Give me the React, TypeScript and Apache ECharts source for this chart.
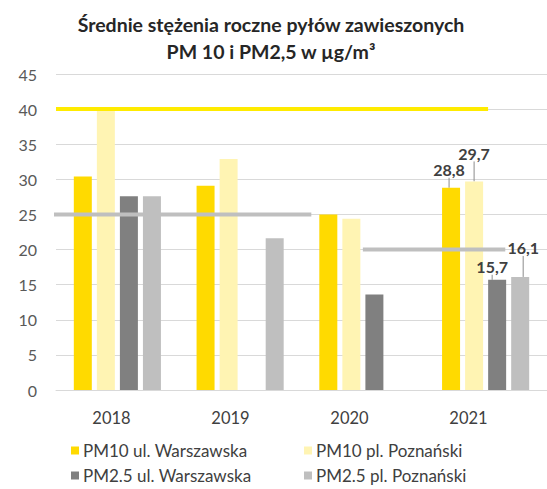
import React, { useEffect, useRef } from "react";
import * as echarts from "echarts";

const years = ["2018", "2019", "2020", "2021"];
const seriesNames = [
  "PM10 ul. Warszawska",
  "PM10 pl. Poznański",
  "PM2.5 ul. Warszawska",
  "PM2.5 pl. Poznański",
];
const pm10Warszawska = [30.4, 29.1, 25.0, 28.8];
const pm10Poznanski = [40.1, 32.9, 24.4, 29.7];
const pm25Warszawska = [27.6, null, 13.6, 15.7];
const pm25Poznanski = [27.6, 21.6, null, 16.1];
const yTicks = { min: 0, max: 45, interval: 5 };
const limitPM10 = 40;
const limitPM25 = [25, 20];

const FONT = "Lato, 'Open Sans', sans-serif";
const colors = ["#FFDA00", "#FFF4B3", "#808080", "#BFBFBF"];

// label adjustments (only 2021 labelled)
const labelShifts = [
  { dx: -2, dy: -5 },
  { dx: 0, dy: -15 },
  { dx: -5, dy: 0 },
  { dx: 3, dy: -16 },
];

const fmt = (v: number) => String(v.toFixed(1)).replace(".", ",");

export default function App() {
  const ref = useRef<HTMLDivElement>(null);
  useEffect(() => {
    if (!ref.current) return;
    const chart = echarts.init(ref.current, null, { renderer: "svg" });
    const allData = [pm10Warszawska, pm10Poznanski, pm25Warszawska, pm25Poznanski];
    const labelled = years.length - 1;

    const barSeries = allData.map((arr, si) => ({
      type: "bar",
      name: seriesNames[si],
      xAxisIndex: 0,
      yAxisIndex: 0,
      barWidth: 18,
      barGap: "28%",
      itemStyle: { color: colors[si] },
      z: 2,
      label: {
        show: false,
        position: "top",
        distance: 5,
        color: "#404040",
        fontFamily: FONT,
        fontSize: 16,
        fontWeight: "bold",
        formatter: (p: any) => fmt(p.value),
      },
      labelLine: { show: true, lineStyle: { color: "#8c8c8c", width: 1 } },
      labelLayout: (p: any) =>
        p.dataIndex === labelled ? { dx: labelShifts[si].dx, dy: labelShifts[si].dy } : {},
      data: arr.map((v, i) =>
        v === null ? null : i === labelled ? { value: v, label: { show: true } } : v
      ),
    }));

    const lineSeries = [
      { data: [[0, limitPM10], [3.52, limitPM10]], color: "#FFEB00" },
      { data: [[-0.04, limitPM25[0]], [2.08, limitPM25[0]]], color: "#BFBFBF" },
      { data: [[2.5, limitPM25[1]], [3.66, limitPM25[1]]], color: "#BFBFBF" },
    ].map((l) => ({
      type: "line",
      xAxisIndex: 1,
      yAxisIndex: 0,
      data: l.data,
      symbol: "none",
      clip: false,
      silent: true,
      z: 5,
      lineStyle: { color: l.color, width: 4 },
    }));

    chart.setOption({
      animation: false,
      title: {
        text: "Średnie stężenia roczne pyłów zawieszonych\nPM 10 i PM2,5 w µg/m³",
        left: 266,
        top: 6,
        textAlign: "center",
        textStyle: {
          fontFamily: FONT,
          fontSize: 19.5,
          fontWeight: "bold",
          color: "#262626",
          lineHeight: 27,
        },
      },
      legend: [
        {
          orient: "vertical",
          left: 66,
          top: 437,
          itemWidth: 8,
          itemHeight: 8,
          itemGap: 8,
          icon: "rect",
          data: [seriesNames[0], seriesNames[2]],
          textStyle: { fontFamily: FONT, fontSize: 17, color: "#404040", padding: [0, 0, 0, -1] },
        },
        {
          orient: "vertical",
          left: 299,
          top: 437,
          itemWidth: 8,
          itemHeight: 8,
          itemGap: 8,
          icon: "rect",
          data: [seriesNames[1], seriesNames[3]],
          textStyle: { fontFamily: FONT, fontSize: 17, color: "#404040", padding: [0, 0, 0, -1] },
        },
      ],
      grid: [
        { left: 56, top: 74, width: 497, height: 316, containLabel: false },
        { left: 52, top: 74, width: 476, height: 316, containLabel: false },
      ],
      xAxis: [
        {
          type: "category",
          gridIndex: 0,
          data: years,
          axisLine: { show: true, lineStyle: { color: "#d9d9d9", width: 1 } },
          axisTick: { show: false },
          axisLabel: { show: false },
        },
        {
          type: "value",
          gridIndex: 0,
          min: 0,
          max: 4,
          show: false,
        },
        {
          type: "category",
          gridIndex: 1,
          data: years,
          axisLine: { show: false },
          axisTick: { show: false },
          axisLabel: {
            margin: 19,
            fontFamily: FONT,
            fontSize: 16.5,
            color: "#404040",
          },
        },
      ],
      yAxis: [
        {
          type: "value",
          gridIndex: 0,
          min: yTicks.min,
          max: yTicks.max,
          interval: yTicks.interval,
          axisLine: { show: false },
          axisTick: { show: false },
          splitLine: { lineStyle: { color: "#d9d9d9", width: 1 } },
          axisLabel: {
            margin: 19,
            fontFamily: FONT,
            fontSize: 16,
            color: "#595959",
          },
        },
        {
          type: "value",
          gridIndex: 1,
          min: yTicks.min,
          max: yTicks.max,
          show: false,
        },
      ],
      series: [...barSeries, ...lineSeries],
    });
    return () => chart.dispose();
  }, []);
  return (
    <div
      ref={ref}
      style={{ position: "fixed", left: 0, top: 0, width: 547, height: 489, background: "#fff" }}
    />
  );
}
